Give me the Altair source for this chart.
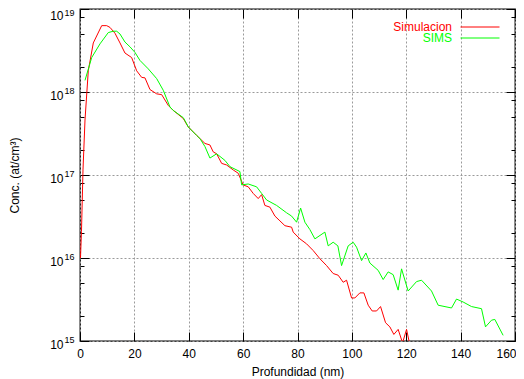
import altair as alt
import pandas as pd

# ---- data ----
sim_x = [0.18, 0.55, 1.10, 1.84, 3.05, 4.89, 7.98, 9.82, 11.03, 12.87, 14.71, 16.54, 19.0, 20.85,
         22.68, 23.9, 25.74, 28.2, 30.04, 32.46, 34.30, 37.98, 39.8, 42.9, 45.96, 47.79, 49.0,
         50.26, 52.1, 53.93, 56.36, 58.2, 60.0, 61.88, 63.71, 65.55, 66.8, 68.0, 69.85, 71.69,
         73.53, 75.37, 77.83, 78.42, 80.88, 83.35, 85.77, 88.24, 90.7, 93.12, 94.96, 96.8, 98.05,
         99.89, 101.1, 102.94, 104.41, 106.0, 107.46, 109.08, 110.55, 112.39, 113.97, 115.44,
         117.02, 118.64, 120.11, 121.32, 122.5]
sim_y = [1.0e16, 2.1e16, 1.15e17, 4.6e17, 1.8e18, 3.9e18, 6.3e18, 6.3e18, 6.0e18, 5.1e18, 3.9e18,
         2.95e18, 2.6e18, 1.8e18, 1.5e18, 1.48e18, 1.07e18, 9.5e17, 9.3e17, 6.9e17, 6.0e17, 4.8e17,
         3.8e17, 3.0e17, 2.4e17, 2.3e17, 1.9e17, 1.8e17, 1.38e17, 1.32e17, 1.15e17, 1.05e17, 7.6e16,
         7.2e16, 6.0e16, 5.2e16, 5.8e16, 4.3e16, 4.1e16, 3.2e16, 2.8e16, 2.45e16, 2.35e16, 2.05e16,
         1.7e16, 1.48e16, 1.23e16, 9.8e15, 8.1e15, 6.5e15, 6.2e15, 5.1e15, 5.4e15, 3.3e15, 3.3e15,
         3.8e15, 3.8e15, 2.7e15, 2.3e15, 2.3e15, 2.6e15, 1.66e15, 1.48e15, 1.2e15, 1.38e15, 0.95e15,
         1.38e15, 0.9e15, 0.7e15]

sims_x = [1.84, 4.30, 7.35, 10.40, 12.24, 13.49, 14.71, 16.54, 18.38, 20.22, 22.06, 25.11, 28.20,
          30.62, 33.09, 34.30, 38.0, 39.82, 42.90, 44.12, 45.96, 47.79, 50.26, 53.31, 55.15, 58.82,
          59.45, 61.88, 64.96, 66.80, 68.64, 72.32, 76.0, 77.83, 79.67, 81.14, 82.72, 84.56, 86.40,
          90.07, 91.29, 93.12, 94.85, 96.21, 98.64, 100.48, 101.73, 103.57, 105.15, 106.62, 109.67,
          111.51, 113.35, 115.18, 117.02, 118.27, 120.70, 123.79, 125.63, 129.30, 131.73, 136.65,
          138.49, 140.92, 144.0, 147.68, 149.15, 151.36, 152.57, 155.63]
sims_y = [1.38e18, 2.6e18, 3.8e18, 5.2e18, 5.4e18, 5.4e18, 5.0e18, 4.0e18, 3.5e18, 3.0e18, 2.4e18,
          1.9e18, 1.45e18, 1.05e18, 6.6e17, 6.0e17, 4.9e17, 3.8e17, 3.0e17, 2.75e17, 2.2e17, 1.6e17,
          1.8e17, 1.5e17, 1.26e17, 1.1e17, 7.6e16, 7.8e16, 7.2e16, 6.0e16, 5.0e16, 4.3e16, 3.5e16,
          3.2e16, 2.7e16, 4.0e16, 2.7e16, 2.2e16, 1.7e16, 2.05e16, 1.4e16, 1.55e16, 1.4e16, 8.1e15,
          1.4e16, 1.55e16, 1.35e16, 9.3e15, 1.15e16, 8.7e15, 7.1e15, 5.5e15, 6.8e15, 6.3e15, 4.1e15,
          7.4e15, 4.0e15, 5.2e15, 5.4e15, 4.0e15, 2.7e15, 2.5e15, 3.2e15, 2.95e15, 2.6e15, 2.45e15,
          1.48e15, 1.78e15, 1.82e15, 1.17e15]

series_names = ["Simulacion", "SIMS"]
series_colors = ["#ff0000", "#00ff00"]

x_ticks = [0, 20, 40, 60, 80, 100, 120, 140, 160]
y_major = [1e15, 1e16, 1e17, 1e18, 1e19]
minor_mult = [2, 5, 8]
y_minor = [m * d for d in y_major[:-1] for m in minor_mult]

x_title = "Profundidad (nm)"
y_title = "Conc. (at/cm³)"

W, H = 435, 332
FONT = "Liberation Sans"

sim_df = pd.DataFrame({"x": sim_x, "y": sim_y, "serie": series_names[0]})
sims_df = pd.DataFrame({"x": sims_x, "y": sims_y, "serie": series_names[1]})

xscale = alt.Scale(domain=[0, 160], nice=False, zero=False)
yscale = alt.Scale(type="log", domain=[1e15, 1e19], nice=False)

GRID = dict(grid=True, gridColor="#9a9a9a", gridDash=[2, 2], gridWidth=1)
NOLAB = dict(labels=False, domain=False, title=None, grid=False, tickColor="black", tickWidth=1)


def legend(i, y):
    return alt.Legend(
        title=None, orient="none", legendX=380, legendY=y, padding=0,
        symbolType="stroke", symbolSize=1521, symbolStrokeWidth=1,
        labelColor=series_colors[i], labelFont=FONT, labelFontSize=12,
        labelAlign="right", labelOffset={"expr": "-48"}, labelBaseline="middle",
    )


line_sim = alt.Chart(sim_df).mark_line(clip=True, strokeWidth=1).encode(
    x=alt.X("x:Q", scale=xscale, axis=alt.Axis(
        orient="bottom", values=x_ticks, ticks=False, tickSize=0, domain=False,
        labelPadding=7, labelFontSize=12, labelFont=FONT, labelFlush=False,
        labelAlign={"condition": {"test": "datum.value >= 159", "value": "right"}, "value": "center"},
        labelOffset={"condition": {"test": "datum.value >= 159", "value": 1}, "value": 0},
        labelOverlap=False, labelColor="black",
        title=x_title, titleFont=FONT, titleFontSize=12, titleFontWeight="normal",
        titleY=34, titleBaseline="alphabetic", titleColor="black", **GRID)),
    y=alt.Y("y:Q", scale=yscale, axis=alt.Axis(
        orient="left", values=y_major, ticks=False, tickSize=0, domain=False,
        labelExpr="'10'", labelAlign="right", labelBaseline="middle",
        labelPadding=17, labelFontSize=12, labelFont=FONT, labelColor="black",
        labelOffset={"condition": {"test": "datum.value > 5e18", "value": 6}, "value": 3},
        labelOverlap=False, labelFlush=False, labelBound=False,
        title=y_title, titleFont=FONT, titleFontSize=12, titleFontWeight="normal",
        titleX=-62, titleBaseline="alphabetic", titleColor="black", **GRID)),
    stroke=alt.Stroke("serie:N", scale=alt.Scale(domain=[series_names[0]], range=[series_colors[0]]),
                      legend=legend(0, -2)),
)

line_sims = alt.Chart(sims_df).mark_line(clip=True, strokeWidth=1).encode(
    x=alt.X("x:Q", scale=xscale, axis=alt.Axis(
        orient="top", offset=-H, values=x_ticks, tickSize=9, **NOLAB)),
    y=alt.Y("y:Q", scale=yscale, axis=alt.Axis(
        orient="left", values=y_major, ticks=False, tickSize=0, domain=False, grid=False,
        title=None, labelExpr="'' + round(log(datum.value) / LN10)",
        labelAlign="left", labelBaseline="middle", labelPadding=16,
        labelFontSize=9, labelFont=FONT, labelColor="black",
        labelOffset={"condition": {"test": "datum.value > 5e18", "value": 3}, "value": -2},
        labelOverlap=False, labelFlush=False, labelBound=False)),
    stroke=alt.Stroke("serie:N", scale=alt.Scale(domain=[series_names[1]], range=[series_colors[1]]),
                      legend=legend(1, 9)),
)


def hidden(xaxis, yaxis):
    return alt.Chart(sim_df).mark_line(strokeOpacity=0).encode(
        x=alt.X("x:Q", scale=xscale, axis=xaxis),
        y=alt.Y("y:Q", scale=yscale, axis=yaxis),
    )


h1 = hidden(alt.Axis(orient="bottom", offset=-H, values=x_ticks, tickSize=9, **NOLAB),
            alt.Axis(orient="right", offset=-W, values=y_major, tickSize=9, **NOLAB))
h2 = hidden(None, alt.Axis(orient="right", offset=-W, values=y_minor, tickSize=4, **NOLAB))
h3 = hidden(None, alt.Axis(orient="left", offset=-W, values=y_major, tickSize=9, **NOLAB))
h4 = hidden(None, alt.Axis(orient="left", offset=-W, values=y_minor, tickSize=4, **NOLAB))

chart = alt.layer(line_sim, line_sims, h1, h2, h3, h4).resolve_scale(
    x="shared", y="shared", stroke="independent"
).resolve_axis(
    x="independent", y="independent"
).resolve_legend(
    stroke="independent"
).properties(
    width=W, height=H,
    autosize=alt.AutoSizeParams(type="none"),
    padding={"left": 72, "top": 1, "right": 1, "bottom": 38},
    background="white",
).configure_view(stroke="black", strokeWidth=1.3)

chart.save("out.html", embed_options={"renderer": "svg", "actions": False})
